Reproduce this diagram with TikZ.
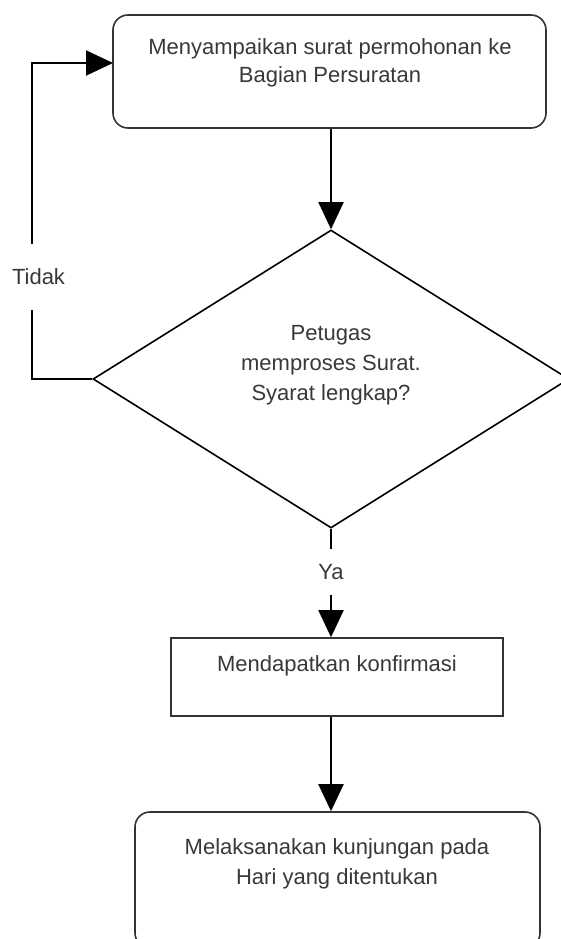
\documentclass[tikz,border=0pt]{standalone}
\usepackage{fontspec}
\setmainfont{Liberation Sans}
\usetikzlibrary{shapes.geometric,arrows.meta}

\definecolor{garisabu}{HTML}{333333}
\definecolor{teksabu}{HTML}{383838}

\tikzset{
  kotakbulat/.style={draw=garisabu, line width=1.6pt, rounded corners=15pt, inner sep=0pt},
  kotak/.style={draw=garisabu, line width=1.6pt, inner sep=0pt},
  belahketupat/.style={diamond, draw=black, line width=1.6pt, inner sep=0pt},
  teks/.style={anchor=north, inner sep=0pt, align=center, text=teksabu},
  label/.style={inner xsep=0pt, text height=15.5pt, text depth=0pt, text=teksabu},
  garishubung/.style={draw=black, line width=2pt},
  panah/.style={garishubung, -{Triangle[length=27pt,width=25pt]}}
}

\begin{document}
\begin{tikzpicture}[x=1pt, y=-1pt, font=\fontsize{22}{28}\selectfont]
\useasboundingbox (0,0) rectangle (561,939);

% Kotak dan belah ketupat
\node[kotakbulat, minimum width=433pt, minimum height=113pt] (kirim) at (329.5, 71.5) {};
\node[teks] (kirimteks) at (330, 38) {Menyampaikan surat permohonan ke\\Bagian Persuratan};
\node[belahketupat, minimum width=476pt, minimum height=298pt] (periksa) at (331, 379) {};
\node[teks, font=\fontsize{22}{30}\selectfont] (periksateks) at (331, 325) {Petugas\\memproses Surat.\\Syarat lengkap?};
\node[kotak, minimum width=332pt, minimum height=78pt] (konfirmasi) at (337, 677) {};
\node[teks] (konfirmasiteks) at (337, 655) {Mendapatkan konfirmasi};
\node[kotakbulat, minimum width=405pt, minimum height=136pt] (kunjungan) at (337.5, 880) {};
\node[teks, font=\fontsize{22}{30}\selectfont] (kunjunganteks) at (337, 838) {Melaksanakan kunjungan pada\\Hari yang ditentukan};

% Label pada garis
\node[label, inner ysep=25pt] (tidak) at (38.5, 277) {Tidak};
\node[label, inner ysep=15.5pt] (ya) at (331, 572) {Ya};
\coordinate (belok) at (32, 379);
\coordinate (masuk) at (113, 63);

% Garis penghubung
\draw[panah] (periksa.north |- kirim.south) -- (periksa.north);
\draw[garishubung] (periksa.west) -| (tidak.south -| belok);
\draw[panah] (tidak.north -| belok) |- (masuk);
\draw[garishubung] (periksa.south) -- (ya.north);
\draw[panah] (ya.south) -- (ya.south |- konfirmasi.north);
\draw[panah] (ya.south |- konfirmasi.south) -- (ya.south |- kunjungan.north);
\end{tikzpicture}
\end{document}
